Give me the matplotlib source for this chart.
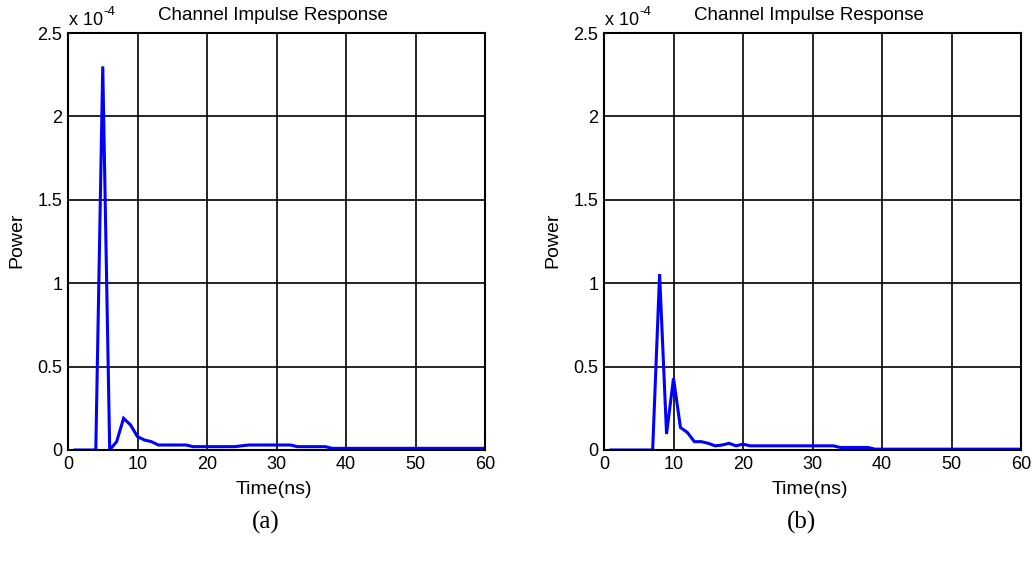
import matplotlib
matplotlib.use("Agg")
import matplotlib.pyplot as plt
import numpy as np

# Time axis (ns) and power values (x 1e-4)
time_ns = list(range(1, 61))

power_a = [0, 0, 0, 0, 2.30, 0, 0.05, 0.19, 0.15, 0.08,
           0.06, 0.05, 0.03, 0.03, 0.03, 0.03, 0.03, 0.02, 0.02, 0.02,
           0.02, 0.02, 0.02, 0.02, 0.025, 0.03, 0.03, 0.03, 0.03, 0.03,
           0.03, 0.03, 0.02, 0.02, 0.02, 0.02, 0.02, 0.01, 0.01, 0.01,
           0.01, 0.01, 0.01, 0.01, 0.01, 0.01, 0.01, 0.01, 0.01, 0.01,
           0.01, 0.01, 0.01, 0.01, 0.01, 0.01, 0.01, 0.01, 0.01, 0.01]

power_b = [0, 0, 0, 0, 0, 0, 0, 1.055, 0.096, 0.43,
           0.135, 0.105, 0.05, 0.05, 0.04, 0.025, 0.03, 0.04, 0.025, 0.035,
           0.025, 0.025, 0.025, 0.025, 0.025, 0.025, 0.025, 0.025, 0.025, 0.025,
           0.025, 0.025, 0.025, 0.015, 0.015, 0.015, 0.015, 0.015, 0.005, 0.005,
           0.005, 0.005, 0.005, 0.005, 0.005, 0.005, 0.005, 0.005, 0.005, 0.005,
           0.005, 0.005, 0.005, 0.005, 0.005, 0.005, 0.005, 0.005, 0.005, 0.005]

x_ticks = [0, 10, 20, 30, 40, 50, 60]
y_ticks = [0, 0.5, 1, 1.5, 2, 2.5]
y_tick_labels = ["0", "0.5", "1", "1.5", "2", "2.5"]
title_text = "Channel Impulse Response"
xlabel_text = "Time(ns)"
ylabel_text = "Power"
panel_labels = ["(a)", "(b)"]

plt.rcParams['font.family'] = ['Liberation Sans', 'DejaVu Sans']

W, H = 1032, 569
fig = plt.figure(figsize=(W / 100, H / 100), dpi=100)

# axes positions in pixels: (left, top, right, bottom)
boxes = [(68, 33, 485, 450), (604, 33, 1021, 450)]
series = [power_a, power_b]

for i, (box, vals) in enumerate(zip(boxes, series)):
    l, t, r, b = box
    ax = fig.add_axes([l / W, 1 - b / H, (r - l) / W, (b - t) / H])
    ax.plot(time_ns, vals, color='#0000ff', lw=2.2, solid_joinstyle='miter')
    ax.set_xlim(0, 60)
    ax.set_ylim(0, 2.5)
    ax.set_xticks(x_ticks)
    ax.set_yticks(y_ticks)
    ax.set_yticklabels(y_tick_labels)
    ax.grid(True, color='black', lw=1.2, ls='-')
    ax.set_axisbelow(True)
    for s in ax.spines.values():
        s.set_linewidth(1.5)
        s.set_color('black')
    ax.tick_params(direction='in', length=0, labelsize=13, pad=4)
    # title
    fig.text(((l + r) / 2 - 4) / W, 1 - 16 / H, title_text, fontsize=13.5,
             ha='center', va='center')
    # axis labels
    fig.text(((l + r) / 2 - 3) / W, 1 - 490 / H, xlabel_text, fontsize=14,
             ha='center', va='center')
    fig.text((l - 51) / W, 1 - 240 / H, ylabel_text, fontsize=14,
             ha='center', va='center', rotation=90)
    # exponent
    fig.text((l + 1) / W, 1 - 25 / H, 'x 10', fontsize=13,
             ha='left', va='baseline')
    fig.text((l + 35) / W, 1 - 15 / H, '-4', fontsize=9.5,
             ha='left', va='baseline')
    fig.text(((l + r) / 2 - 11) / W, 1 - 522 / H, panel_labels[i],
             family=['Liberation Serif', 'DejaVu Serif'], fontsize=18,
             ha='center', va='center')

fig.savefig('out.png', dpi=100)
